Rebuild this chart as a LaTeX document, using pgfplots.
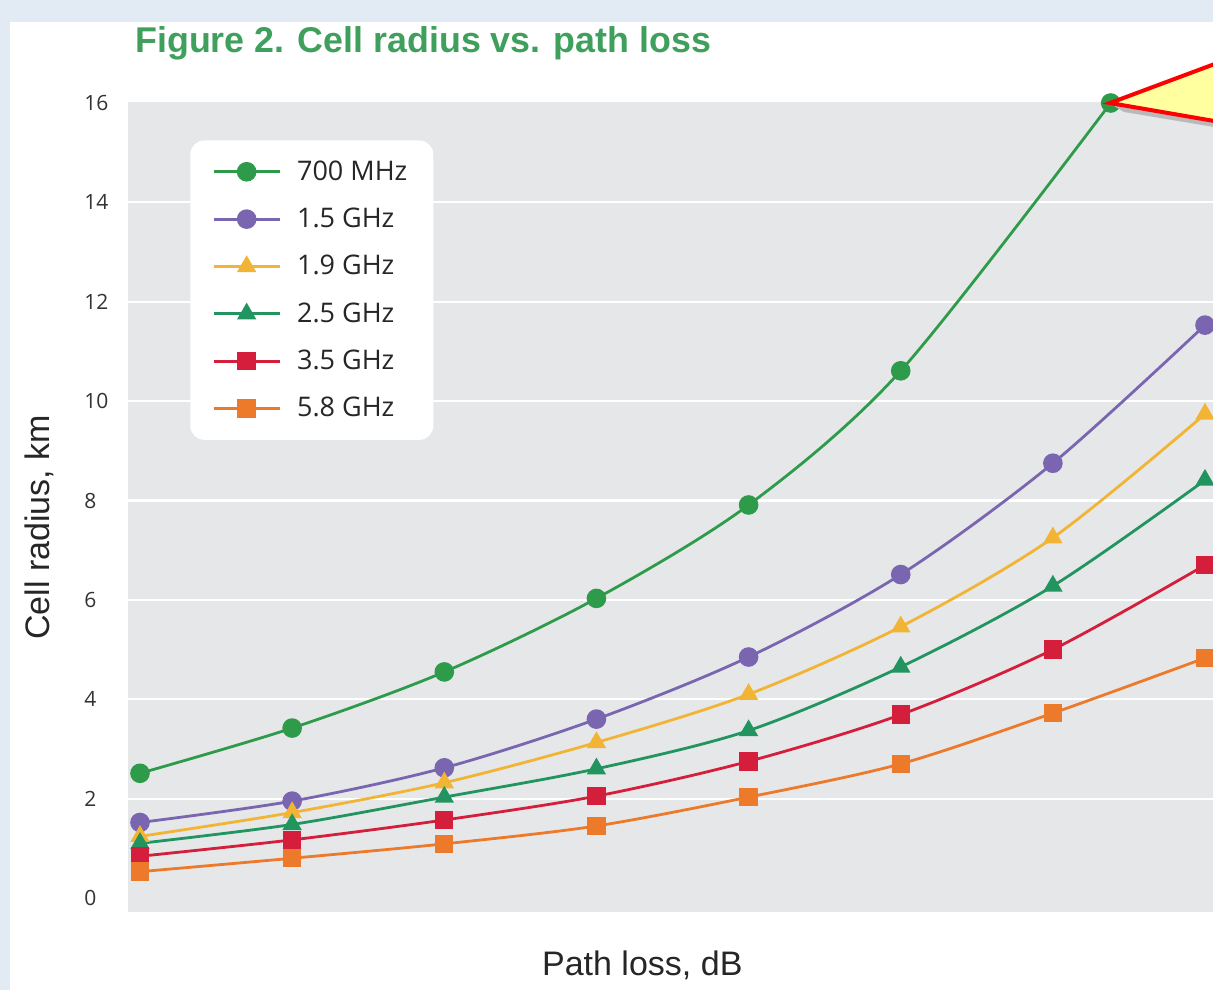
\documentclass[border=0pt]{standalone}
\usepackage{fontspec}
\setmainfont{Open Sans}
\newfontfamily\labfont{Liberation Sans}
\usepackage{pgfplots}
\pgfplotsset{compat=1.18}
\definecolor{bgblue}{RGB}{226,234,244}
\definecolor{plotgray}{RGB}{230,231,233}
\definecolor{titlegreen}{RGB}{62,160,92}
\definecolor{cA}{RGB}{46,155,75}
\definecolor{cB}{RGB}{122,102,176}
\definecolor{cC}{RGB}{242,180,52}
\definecolor{cD}{RGB}{34,148,96}
\definecolor{cE}{RGB}{212,30,60}
\definecolor{cF}{RGB}{237,122,42}
\definecolor{calloutyellow}{RGB}{255,255,160}
\begin{document}
\begin{tikzpicture}
\path[use as bounding box] (0,0) rectangle (606.5pt,-495pt);
\begin{scope}[x=0.5pt,y=-0.5pt]
\fill[bgblue] (0,0) rectangle (1213,990);
\fill[white] (10,22) rectangle (1213,990);
\node[anchor=base west, text=titlegreen, font=\labfont\bfseries\fontsize{17.9}{20}\selectfont, inner sep=0pt] at (135,53) {Figure 2. Cell radius vs. path loss};
\end{scope}
\begin{axis}[
  at={(64pt,-456pt)}, anchor=south west,
  scale only axis, width=542.5pt, height=405pt,
  xmin=-0.0789, xmax=7.0526, ymin=-0.282, ymax=16.02,
  axis background/.style={fill=plotgray},
  axis line style={draw=none},
  tick style={draw=none},
  major tick length=0pt, minor tick length=0pt,
  xtick=\empty,
  minor xtick={1,2,3,4,5,6,7},
  ytick={0,2,...,16},
  minor ytick={2,4,...,14},
  xminorgrids=true, yminorgrids=true,
  minor grid style={white, line width=1.1pt},
  /pgf/number format/assume math mode=true,
  yticklabel style={font=\fontsize{10.5}{12}\selectfont, text=black!80, anchor=west, inner sep=0pt, xshift=-22pt},
  clip=false,
  legend style={at={(rel axis cs:0.057,0.953)}, anchor=north west, draw=none, fill=white,
    rounded corners=7pt, font=\fontsize{13.5}{15}\selectfont, row sep=8.4pt,
    inner xsep=11pt, inner ysep=8pt, cells={anchor=west}, text=black!85,
    /tikz/every odd column/.append style={column sep=6pt}},
  legend image code/.code={\draw[mark repeat=2,mark phase=2] plot coordinates {(0cm,0cm) (0.58cm,0cm) (1.16cm,0cm)};},
  every axis plot/.append style={line width=1.4pt, smooth},
]
\addplot[color=cA, mark=*, mark size=4.2pt] coordinates {
 (0,2.51) (1,3.42) (2,4.55) (3,6.03) (4,7.91) (5,10.61) (6.38,16.0)};
\addlegendentry{700 MHz}
\addplot[color=cB, mark=*, mark size=4.2pt] coordinates {
 (0,1.52) (1,1.95) (2,2.62) (3,3.60) (4,4.85) (5,6.51) (6,8.75) (7,11.53)};
\addlegendentry{1.5 GHz}
\addplot[color=cC, mark=triangle*, mark size=4.2pt] coordinates {
 (0,1.24) (1,1.72) (2,2.32) (3,3.13) (4,4.10) (5,5.46) (6,7.25) (7,9.74)};
\addlegendentry{1.9 GHz}
\addplot[color=cD, mark=triangle*, mark size=4.2pt] coordinates {
 (0,1.10) (1,1.48) (2,2.03) (3,2.60) (4,3.37) (5,4.65) (6,6.28) (7,8.41)};
\addlegendentry{2.5 GHz}
\addplot[color=cE, mark=square*, mark size=3.9pt] coordinates {
 (0,0.84) (1,1.17) (2,1.57) (3,2.05) (4,2.75) (5,3.69) (6,5.00) (7,6.70)};
\addlegendentry{3.5 GHz}
\addplot[color=cF, mark=square*, mark size=3.9pt] coordinates {
 (0,0.53) (1,0.80) (2,1.09) (3,1.45) (4,2.03) (5,2.70) (6,3.72) (7,4.83)};
\addlegendentry{5.8 GHz}
\node[font=\labfont\fontsize{17}{20}\selectfont, text=black!85, rotate=90] at (axis description cs:-0.082,0.475) {Cell radius, km};
\node[font=\labfont\fontsize{17}{20}\selectfont, text=black!85] at (axis description cs:0.474,-0.066) {Path loss, dB};
\end{axis}
\begin{scope}[x=0.5pt,y=-0.5pt]
\fill[gray!55] (1114,106) -- (1220,116) -- (1220,128) -- (1124,112) -- cycle;
\filldraw[fill=calloutyellow, draw=red, line width=2pt, line join=miter] (1110,103) -- (1220,62) -- (1220,122) -- cycle;
\end{scope}
\end{tikzpicture}
\end{document}
